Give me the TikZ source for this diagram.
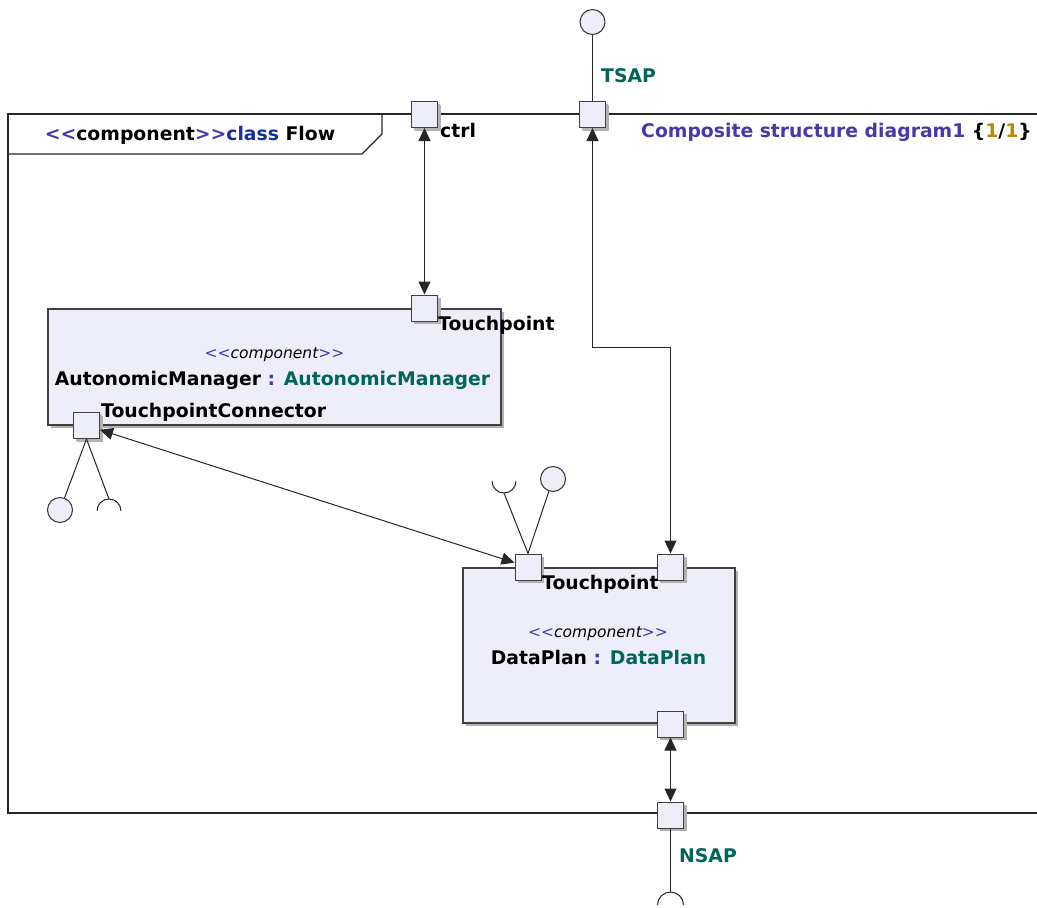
\documentclass[tikz,border=0pt]{standalone}
\usepackage{fontspec}
\setmainfont{DejaVu Sans}
\usetikzlibrary{arrows.meta}
\usetikzlibrary{shadows}
\definecolor{partfill}{RGB}{238,238,250}
\definecolor{typecolor}{RGB}{0,102,88}
\definecolor{stereocolor}{RGB}{72,56,170}
\definecolor{keycolor}{RGB}{20,50,150}
\definecolor{pagecolor}{RGB}{185,135,0}
\newcommand{\partfont}{\fontsize{18.8}{22}\selectfont\bfseries}
\newcommand{\stereofont}{\fontsize{15.5}{18}\selectfont\itshape}
\newcommand{\openstereo}{\textcolor{stereocolor}{<\kern0pt<}}
\newcommand{\closestereo}{\textcolor{stereocolor}{>\kern0pt>}}
\newcommand{\stereotype}{\openstereo component\closestereo}
\tikzstyle{FrameLine}=[line width=1.2pt, draw=black!85]
\tikzstyle{PartNode}=[rectangle, draw=black!75, line width=1.3pt, fill=partfill, drop shadow={shadow xshift=3pt, shadow yshift=-3pt, fill=black!30, opacity=1}]
\tikzstyle{PortNode}=[PartNode, line width=1pt, minimum size=26pt, inner sep=0pt, drop shadow={shadow xshift=2.5pt, shadow yshift=-2.5pt, fill=black!30, opacity=1}]
\tikzstyle{BallNode}=[circle, draw=black!80, line width=1pt, fill=partfill, minimum size=25pt, inner sep=0pt]
\tikzstyle{LinkLine}=[line width=1pt, draw=black!85]
\tikzstyle{LinkEdge}=[LinkLine, {Triangle[length=13pt,width=12pt]}-{Triangle[length=13pt,width=12pt]}]
\tikzstyle{LabelText}=[font=\partfont, inner sep=0pt]
\tikzstyle{StereoText}=[font=\stereofont, inner sep=0pt]

\begin{document}
\begin{tikzpicture}[x=1pt,y=-1pt]
\useasboundingbox (0,0) rectangle (1037,908);
% frame of class Flow
\draw[FrameLine] (1037,114) -- (8,114) -- (8,813) -- (1037,813);
\draw[FrameLine] (8,154) -- (362,154) -- (382,134) -- (382,114);
\node[LabelText, anchor=base](title) at (190,140) {\openstereo component\closestereo\textcolor{keycolor}{class} Flow};
\node[LabelText, anchor=base west](diagram) at (641,137) {\textcolor{stereocolor}{Composite structure diagram1} \{\textcolor{pagecolor}{1}/\textcolor{pagecolor}{1}\}};

% parts
\node[PartNode, minimum width=453pt, minimum height=116pt](am) at (274.5,367) {};
\node[PartNode, minimum width=272pt, minimum height=155pt](dp) at (599,645.5) {};
\node[StereoText, anchor=base](amstereo) at (274.5,358) {\stereotype};
\node[LabelText, anchor=base](amname) at (272.5,385) {AutonomicManager \textcolor{stereocolor}{:} \textcolor{typecolor}{AutonomicManager}};
\node[StereoText, anchor=base](dpstereo) at (598,637) {\stereotype};
\node[LabelText, anchor=base](dpname) at (598.5,664) {DataPlan \textcolor{stereocolor}{:} \textcolor{typecolor}{DataPlan}};

% ports
\node[PortNode](ctrl) at (424.5,114.5) {};
\node[PortNode](tsap) at (592.5,114.5) {};
\node[PortNode](nsap) at (670.5,815) {};
\node[PortNode](amtp) at (424.5,308) {};
\node[PortNode](amtc) at (86.5,425.5) {};
\node[PortNode](dptp) at (528,567) {};
\node[PortNode](dpup) at (670.5,567) {};
\node[PortNode](dpdown) at (670.5,724) {};

\node[LabelText, anchor=base west](ctrllabel) at (440,137) {ctrl};
\node[LabelText, anchor=base west, text=typecolor](tsaplabel) at (601,82) {TSAP};
\node[LabelText, anchor=base west, text=typecolor](nsaplabel) at (679,862) {NSAP};
\node[LabelText, anchor=base west](amtplabel) at (438,330) {Touchpoint};
\node[LabelText, anchor=base west](amtclabel) at (101,417) {TouchpointConnector};
\node[LabelText, anchor=base west](dptplabel) at (542,589) {Touchpoint};

% provided and required interfaces
\node[BallNode](tsapball) at (592.5,22) {};
\node[BallNode](amball) at (60,510) {};
\node[BallNode](dpball) at (553,479) {};
\coordinate (amsocket) at (109,499);
\coordinate (dpsocket) at (504,493);
\coordinate (nsapsocket) at (670.5,892);
\coordinate (tsapbend) at (670.5,347);

\draw[LinkLine](tsapball) -- (tsap);
\draw[LinkLine](amtc.south) -- (amball);
\draw[LinkLine](amtc.south) -- (amsocket);
\draw[LinkLine](amsocket) ++(-12,12) arc[start angle=180, end angle=360, radius=12];
\draw[LinkLine](dptp.north) -- (dpball);
\draw[LinkLine](dptp.north) -- (dpsocket);
\draw[LinkLine](dpsocket) ++(-12,-12) arc[start angle=180, end angle=0, radius=12];
\draw[LinkLine](nsap.south) -- (nsapsocket);
\draw[LinkLine](nsapsocket) ++(-13,13) arc[start angle=180, end angle=360, radius=13];

% connectors
\draw[LinkEdge](ctrl.south) -- (amtp.north);
\draw[LinkEdge](tsap.south) |- (tsapbend) -- (dpup.north);
\draw[LinkEdge](amtc) -- (dptp);
\draw[LinkEdge](dpdown.south) -- (nsap.north);
\end{tikzpicture}
\end{document}
